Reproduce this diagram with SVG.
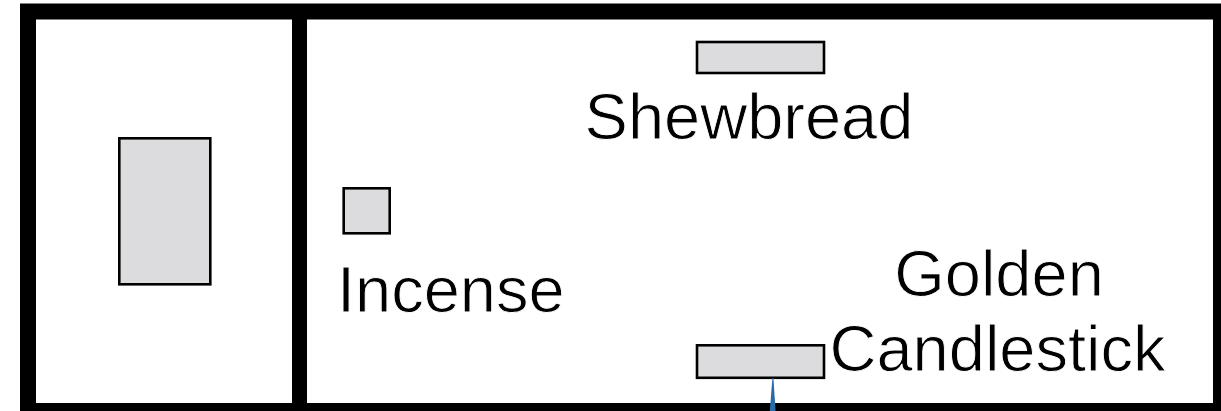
<svg xmlns="http://www.w3.org/2000/svg" width="1221" height="411" viewBox="0 0 1221 411">
  <style>
    .wall { fill: none; stroke: #000; stroke-width: 16; }
    .div { stroke: #000; stroke-width: 15; }
    .item { fill: #dcdcde; stroke: #000; stroke-width: 2.6; }
    .lbl { font-family: "Liberation Sans", Arial, sans-serif; font-size: 65px; fill: #000; stroke: #fff; stroke-width: 0.9; paint-order: fill; }
  </style>
  <rect width="1221" height="411" fill="#fff"/>
  <g id="walls">
    <rect class="wall" x="28" y="11.5" width="1193" height="399.5"/>
    <line class="div" x1="299.5" y1="11" x2="299.5" y2="411"/>
  </g>
  <g id="altar">
    <rect class="item" x="119.3" y="138.3" width="91" height="146"/>
  </g>
  <g id="incense">
    <rect class="item" x="343.7" y="188.3" width="46" height="45"/>
    <text class="lbl" x="337" y="312">Incense</text>
  </g>
  <g id="shewbread">
    <rect class="item" x="697" y="42" width="127" height="31"/>
    <text class="lbl" x="749" y="139" text-anchor="middle">Shewbread</text>
  </g>
  <g id="candlestick">
    <rect class="item" x="697" y="345.3" width="127" height="32.5"/>
    <text class="lbl" x="999" y="296" text-anchor="middle">Golden</text>
    <text class="lbl" x="829.5" y="371">Candlestick</text>
  </g>
  <g id="connectors">
    <polygon points="772.4,378 773.4,378 775.6,411 769.8,411" fill="#2a6aa8"/>
  </g>
</svg>
